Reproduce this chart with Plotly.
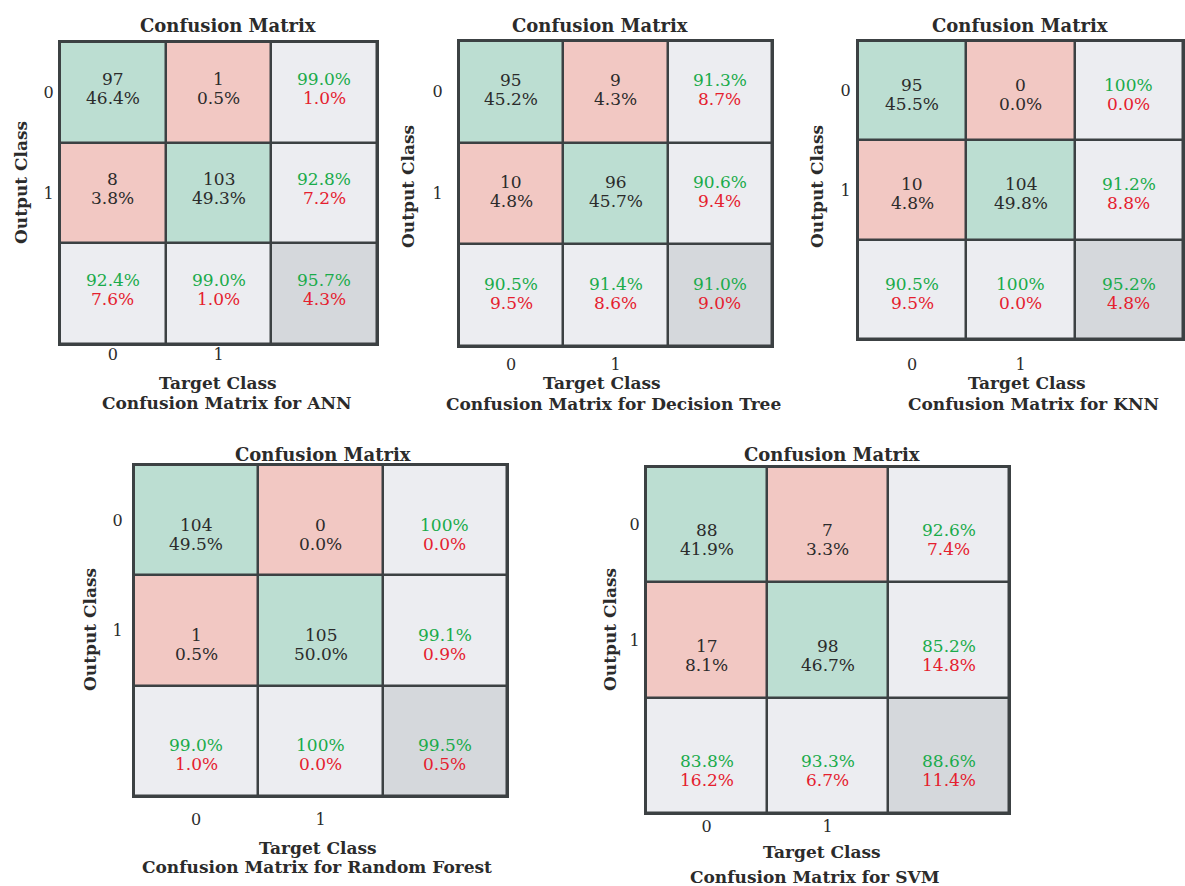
import plotly.graph_objects as go

W, H = 1185, 886

# ---------------- data ----------------
models = ["ANN", "Decision Tree", "KNN", "Random Forest", "SVM"]
class_labels = ["0", "1"]

counts = {
    "ANN": [[97, 1], [8, 103]],
    "Decision Tree": [[95, 9], [10, 96]],
    "KNN": [[95, 0], [10, 104]],
    "Random Forest": [[104, 0], [1, 105]],
    "SVM": [[88, 7], [17, 98]],
}
cell_pct = {
    "ANN": [["46.4%", "0.5%"], ["3.8%", "49.3%"]],
    "Decision Tree": [["45.2%", "4.3%"], ["4.8%", "45.7%"]],
    "KNN": [["45.5%", "0.0%"], ["4.8%", "49.8%"]],
    "Random Forest": [["49.5%", "0.0%"], ["0.5%", "50.0%"]],
    "SVM": [["41.9%", "3.3%"], ["8.1%", "46.7%"]],
}
row_good = {
    "ANN": ["99.0%", "92.8%"],
    "Decision Tree": ["91.3%", "90.6%"],
    "KNN": ["100%", "91.2%"],
    "Random Forest": ["100%", "99.1%"],
    "SVM": ["92.6%", "85.2%"],
}
row_bad = {
    "ANN": ["1.0%", "7.2%"],
    "Decision Tree": ["8.7%", "9.4%"],
    "KNN": ["0.0%", "8.8%"],
    "Random Forest": ["0.0%", "0.9%"],
    "SVM": ["7.4%", "14.8%"],
}
col_good = {
    "ANN": ["92.4%", "99.0%"],
    "Decision Tree": ["90.5%", "91.4%"],
    "KNN": ["90.5%", "100%"],
    "Random Forest": ["99.0%", "100%"],
    "SVM": ["83.8%", "93.3%"],
}
col_bad = {
    "ANN": ["7.6%", "1.0%"],
    "Decision Tree": ["9.5%", "8.6%"],
    "KNN": ["9.5%", "0.0%"],
    "Random Forest": ["1.0%", "0.0%"],
    "SVM": ["16.2%", "6.7%"],
}
total_good = {"ANN": "95.7%", "Decision Tree": "91.0%", "KNN": "95.2%",
              "Random Forest": "99.5%", "SVM": "88.6%"}
total_bad = {"ANN": "4.3%", "Decision Tree": "9.0%", "KNN": "4.8%",
             "Random Forest": "0.5%", "SVM": "11.4%"}

# cell kind: 0 correct, 1 wrong, 2 summary, 3 overall
cell_kind = [[0, 1, 2], [1, 0, 2], [2, 2, 3]]

# ---------------- layout (pixels) ----------------
panels = {
    "ANN":           dict(box=(60, 377, 42, 344), title=(228, 25), xs=-5, ys=1,
                          oc=(21, 183), tc=(218, 383), cap=(227, 403), dy=-4),
    "Decision Tree": dict(box=(459, 772, 41, 346), title=(600, 25), xs=3, ys=11,
                          oc=(408, 187), tc=(602, 383), cap=(613, 404), dy=-2),
    "KNN":           dict(box=(858, 1183, 41, 339), title=(1020, 25), xs=10, ys=2,
                          oc=(817, 187), tc=(1027, 383), cap=(1033, 404), dy=4),
    "Random Forest": dict(box=(134, 507, 465, 796), title=(323, 454), xs=8, ys=6,
                          oc=(90, 630), tc=(318, 848), cap=(317, 867), dy=14),
    "SVM":           dict(box=(646, 1009, 467, 813), title=(832, 454), xs=-2, ys=1,
                          oc=(610, 630), tc=(822, 852), cap=(815, 877), dy=15),
}

GREEN_CELL = "#bcded2"
RED_CELL = "#f2c8c3"
GRAY_CELL = "#ecedf1"
DARK_CELL = "#d5d8dc"
GRID = "#3c4143"
TXT = "#2b2b2b"
TXT_GREEN = "#1aab4b"
TXT_RED = "#e5202e"
FONT = "DejaVu Serif"
CELL_SIZE = 17

colorscale = [[0, GREEN_CELL], [1 / 3, RED_CELL], [2 / 3, GRAY_CELL], [1, DARK_CELL]]

fig = go.Figure()
layout = dict(width=W, height=H, margin=dict(l=0, r=0, t=0, b=0),
              paper_bgcolor="white", plot_bgcolor=GRID, showlegend=False,
              font=dict(family=FONT, color=TXT))
annotations = []


def px(x):
    return x / W


def py(y):
    return 1 - y / H


for i, m in enumerate(models):
    p = panels[m]
    L, R, T, B = p["box"]
    sfx = "" if i == 0 else str(i + 1)
    xa, ya = "x" + sfx, "y" + sfx
    fig.add_trace(go.Heatmap(
        z=cell_kind, x=[0, 1, 2], y=[0, 1, 2], xaxis=xa, yaxis=ya,
        colorscale=colorscale, zmin=0, zmax=3, showscale=False,
        xgap=2.5, ygap=2.5, hoverinfo="skip"))
    layout["xaxis" + sfx] = dict(
        domain=[px(L), px(R)], anchor=ya, range=[-0.5, 2.5],
        tickvals=[0, 1], ticktext=class_labels, ticks="",
        ticklabelstandoff=p["xs"], showline=True, mirror=True,
        linecolor=GRID, linewidth=2, showgrid=False, zeroline=False,
        tickfont=dict(family=FONT, size=16, color=TXT), fixedrange=True)
    layout["yaxis" + sfx] = dict(
        domain=[py(B), py(T)], anchor=xa, range=[2.5, -0.5],
        tickvals=[0, 1], ticktext=class_labels, ticks="",
        ticklabelstandoff=p["ys"], showline=True, mirror=True,
        linecolor=GRID, linewidth=2, showgrid=False, zeroline=False,
        tickfont=dict(family=FONT, size=16, color=TXT), fixedrange=True)

    dy = p["dy"]

    def cell_text(col, row, top, bot, ctop, cbot):
        annotations.append(dict(x=col, y=row, xref=xa, yref=ya, text=top,
                                showarrow=False, yshift=9.5 - dy,
                                font=dict(family=FONT, size=CELL_SIZE, color=ctop)))
        annotations.append(dict(x=col, y=row, xref=xa, yref=ya, text=bot,
                                showarrow=False, yshift=-9.5 - dy,
                                font=dict(family=FONT, size=CELL_SIZE, color=cbot)))

    for r in range(2):
        for c in range(2):
            cell_text(c, r, str(counts[m][r][c]), cell_pct[m][r][c], TXT, TXT)
        cell_text(2, r, row_good[m][r], row_bad[m][r], TXT_GREEN, TXT_RED)
    for c in range(2):
        cell_text(c, 2, col_good[m][c], col_bad[m][c], TXT_GREEN, TXT_RED)
    cell_text(2, 2, total_good[m], total_bad[m], TXT_GREEN, TXT_RED)

    tx, ty = p["title"]
    annotations.append(dict(x=px(tx), y=py(ty), xref="paper", yref="paper",
                            text="<b>Confusion Matrix</b>", showarrow=False,
                            xanchor="center", yanchor="middle",
                            font=dict(family=FONT, size=18, color=TXT)))
    ox, oy = p["oc"]
    annotations.append(dict(x=px(ox), y=py(oy), xref="paper", yref="paper",
                            text="<b>Output Class</b>", showarrow=False,
                            textangle=-90, xanchor="center", yanchor="middle",
                            font=dict(family=FONT, size=17, color=TXT)))
    gx, gy = p["tc"]
    annotations.append(dict(x=px(gx), y=py(gy), xref="paper", yref="paper",
                            text="<b>Target Class</b>", showarrow=False,
                            xanchor="center", yanchor="middle",
                            font=dict(family=FONT, size=17, color=TXT)))
    cx, cy = p["cap"]
    annotations.append(dict(x=px(cx), y=py(cy), xref="paper", yref="paper",
                            text="<b>Confusion Matrix for " + m + "</b>",
                            showarrow=False, xanchor="center", yanchor="middle",
                            font=dict(family=FONT, size=17, color=TXT)))

layout["annotations"] = annotations
fig.update_layout(**layout)
fig.write_html("out.html",
               config={"displayModeBar": False},
               post_script="document.body.style.margin='0';"
                           "document.body.style.overflow='hidden';")
